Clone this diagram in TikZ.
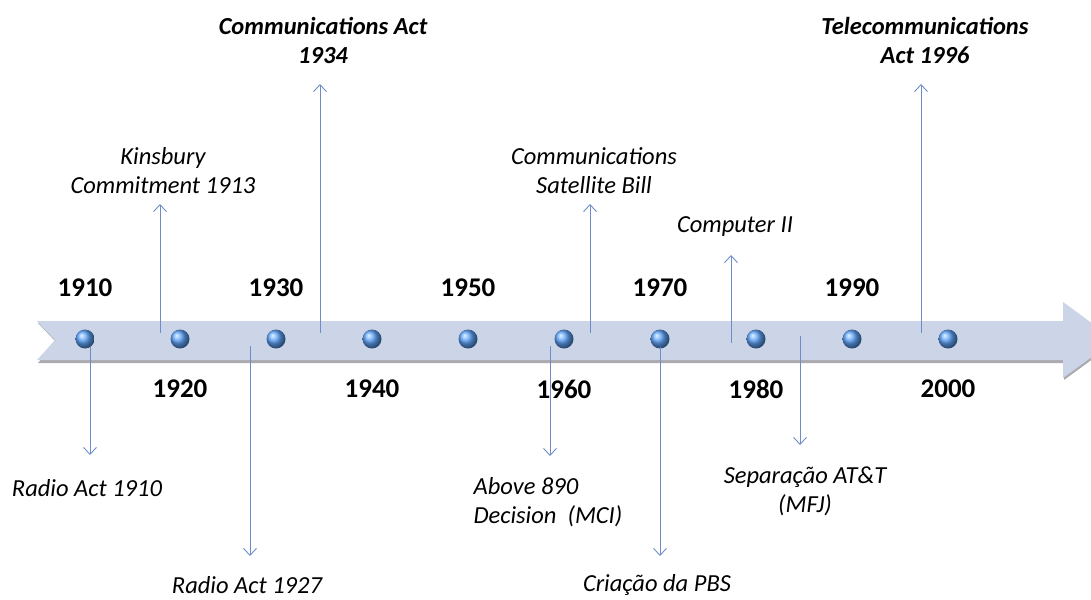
\documentclass[tikz,border=0pt]{standalone}
\usepackage{fontspec}
\setmainfont{Carlito}
\usetikzlibrary{arrows.meta}
\definecolor{bandc}{RGB}{204,212,232}
\definecolor{bandshadow}{RGB}{170,170,175}
\definecolor{linec}{RGB}{110,140,200}
\definecolor{ballc}{RGB}{95,165,250}
\tikzset{
  year/.style={font=\fontsize{27}{30}\selectfont\bfseries, anchor=center},
  evt/.style={font=\fontsize{24.5}{29}\selectfont\itshape, align=center, anchor=center},
  evtb/.style={font=\fontsize{24.5}{29}\selectfont\bfseries\itshape, align=center, anchor=center},
  ball/.style={circle, minimum size=19pt, inner sep=0pt, shading=ball, ball color=ballc},
  conn/.style={draw=linec, line width=0.9pt, -{Straight Barb[length=7pt,width=13pt,line width=0.9pt]}},
}
\begin{document}
\begin{tikzpicture}[x=1pt,y=-1pt]
\useasboundingbox (0,0) rectangle (1091,599);
\clip (0,0) rectangle (1091,599);
% band shadow
\fill[bandshadow] (38,323) -- (1064,323) -- (1064,305) -- (1116,342) -- (1064,380) -- (1064,363) -- (38,363) -- (56,342) -- cycle;
% band
\fill[bandc] (37,321) -- (1063,321) -- (1063,302) -- (1115,340) -- (1063,378) -- (1063,360) -- (37,360) -- (55,340) -- cycle;
% balls
\foreach \i/\x in {1/85,2/180,3/276,4/372,5/468,6/564,7/660,8/756,9/852,10/948}{
  \node[ball] (b\i) at (\x,339) {};
}
% years
\node[year] (y1910) at (85,288) {1910};
\node[year] (y1930) at (276,288) {1930};
\node[year] (y1950) at (468,288) {1950};
\node[year] (y1970) at (660,288) {1970};
\node[year] (y1990) at (852,288) {1990};
\node[year] (y1920) at (180,389) {1920};
\node[year] (y1940) at (372,389) {1940};
\node[year] (y1960) at (564,389) {1960};
\node[year] (y1980) at (756,389) {1980};
\node[year] (y2000) at (948,389) {2000};
% events
\node[evtb] (e1934) at (323,40) {Communications Act\\1934};
\node[evtb] (e1996) at (925,40) {Telecommunications\\Act 1996};
\node[evt] (e1913) at (163,171) {Kinsbury\\Commitment 1913};
\node[evt] (esat) at (594,171) {Communications\\Satellite Bill};
\node[evt] (ecomp) at (735,227) {Computer II};
\node[evt] (e1910) at (87,488) {Radio Act 1910};
\node[evt] (e1927) at (247,585) {Radio Act 1927};
\node[evt, align=left] (e890) at (548,502) {Above 890\\Decision\ \ (MCI)};
\node[evt] (epbs) at (657,585) {Criação da PBS};
\node[evt] (emfj) at (805,491) {Separação AT\&T\\(MFJ)};
% connector coordinates
\coordinate (s1910) at (90,347);   \coordinate (t1910) at (90,455);
\coordinate (s1913) at (160,333);  \coordinate (t1913) at (160,204);
\coordinate (s1927) at (250,346);  \coordinate (t1927) at (250,556);
\coordinate (s1934) at (320,333);  \coordinate (t1934) at (320,84);
\coordinate (s890) at (550,346);   \coordinate (t890) at (550,456);
\coordinate (ssat) at (590,333);   \coordinate (tsat) at (590,204);
\coordinate (spbs) at (660,347);   \coordinate (tpbs) at (660,556);
\coordinate (scomp) at (731,343);  \coordinate (tcomp) at (731,255);
\coordinate (smfj) at (800,336);   \coordinate (tmfj) at (800,445);
\coordinate (s1996) at (921,333);  \coordinate (t1996) at (921,84);
\foreach \e in {1910,1913,1927,1934,890,sat,pbs,comp,mfj,1996}{
  \draw[conn] (s\e) -- (t\e);
}
\end{tikzpicture}
\end{document}
